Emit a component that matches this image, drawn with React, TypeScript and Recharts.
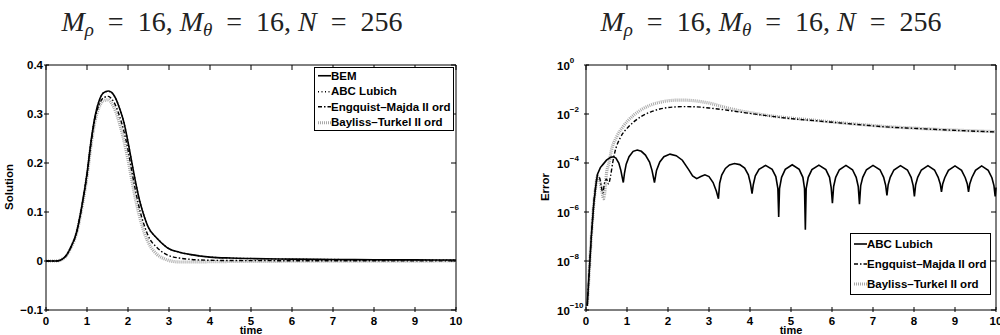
import React from "react";
import { LineChart, Line, XAxis, YAxis, ReferenceLine, Legend } from "recharts";

const SANS = '"Liberation Sans", Arial, sans-serif';
const SERIF = '"Liberation Serif", "Times New Roman", serif';

// ---- left panel: solution vs time
const solTime = [0, 0.2, 0.3, 0.4, 0.5, 0.6, 0.75, 0.87, 1.0, 1.1, 1.2, 1.3, 1.4, 1.52, 1.6, 1.7, 1.8, 1.9, 2.0, 2.1, 2.2, 2.3, 2.4, 2.5, 2.7, 2.9, 3.0, 3.25, 3.5, 4.0, 4.5, 5, 6, 7, 8, 9, 10];
const solBem = [0, 0, 0.0005, 0.004, 0.012, 0.027, 0.06, 0.11, 0.178, 0.245, 0.297, 0.328, 0.343, 0.347, 0.344, 0.332, 0.31, 0.283, 0.243, 0.198, 0.155, 0.118, 0.09, 0.068, 0.047, 0.031, 0.025, 0.018, 0.0135, 0.008, 0.006, 0.005, 0.0038, 0.003, 0.0026, 0.0022, 0.002];
const solAbc = [0, 0, 0.0005, 0.004, 0.012, 0.027, 0.06, 0.11, 0.178, 0.245, 0.297, 0.328, 0.343, 0.346, 0.344, 0.332, 0.31, 0.283, 0.243, 0.198, 0.155, 0.118, 0.09, 0.068, 0.047, 0.031, 0.025, 0.018, 0.0135, 0.008, 0.006, 0.005, 0.0038, 0.003, 0.0026, 0.0022, 0.002];
const solEm = [0, 0, 0.0005, 0.004, 0.012, 0.027, 0.0595, 0.109, 0.176, 0.241, 0.292, 0.32, 0.333, 0.336, 0.331, 0.317, 0.294, 0.265, 0.227, 0.18, 0.137, 0.1, 0.072, 0.05, 0.028, 0.015, 0.011, 0.006, 0.0035, 0.0015, 0.001, 0.0008, 0.0006, 0.0005, 0.0004, 0.0003, 0.0003];
const solBt = [0, 0, 0.0005, 0.004, 0.011, 0.026, 0.058, 0.106, 0.172, 0.237, 0.287, 0.315, 0.327, 0.329, 0.322, 0.305, 0.279, 0.246, 0.207, 0.162, 0.12, 0.085, 0.057, 0.037, 0.014, 0.004, 0.001, -0.002, -0.002, -0.0015, -0.001, -0.0008, -0.0005, -0.0003, -0.0002, -0.0001, 0];

const solTicksX = [0, 1, 2, 3, 4, 5, 6, 7, 8, 9, 10];
const solTicksY = [-0.1, 0, 0.1, 0.2, 0.3, 0.4];
const solTickLabels = ["\u22120.1", "0", "0.1", "0.2", "0.3", "0.4"];

// ---- right panel: error vs time (log)
const abcT = [0.03, 0.08, 0.13, 0.19, 0.24, 0.28, 0.35, 0.42, 0.5, 0.6, 0.67, 0.73, 0.8, 0.85, 0.88, 0.91, 0.94, 0.98, 1.05, 1.15, 1.25, 1.35, 1.45, 1.55, 1.61, 1.67, 1.72, 1.8, 1.9, 2.05, 2.2, 2.35, 2.5, 2.6, 2.7, 2.8, 2.9, 3.0, 3.1, 3.18, 3.23,
  3.26, 3.31, 3.4, 3.5, 3.62, 3.75, 3.87, 3.96, 4.01, 4.05,
  4.08, 4.13, 4.22, 4.38, 4.54, 4.63, 4.68, 4.7,
  4.72, 4.77, 4.86, 5.03, 5.2, 5.29, 5.33, 5.35,
  5.37, 5.42, 5.51, 5.68, 5.85, 5.94, 5.98, 6.01,
  6.04, 6.09, 6.18, 6.34, 6.5, 6.59, 6.64, 6.67,
  6.7, 6.75, 6.84, 7.0, 7.17, 7.26, 7.31, 7.34,
  7.37, 7.42, 7.51, 7.67, 7.84, 7.93, 7.98, 8.01,
  8.04, 8.09, 8.18, 8.34, 8.5, 8.59, 8.64, 8.67,
  8.7, 8.75, 8.84, 9.0, 9.16, 9.25, 9.3, 9.33,
  9.36, 9.41, 9.5, 9.65, 9.81, 9.9, 9.95, 9.98, 10.0];
const abcErr = [1.5e-10, 4e-9, 1e-7, 2.2e-6, 1.2e-5, 3.5e-5, 6.5e-5, 9e-5, 1.3e-4, 1.7e-4, 1.8e-4, 1.6e-4, 1e-4, 5e-5, 2.8e-5, 1.6e-5, 4e-5, 9e-5, 1.8e-4, 3e-4, 3.4e-4, 3e-4, 2.1e-4, 1.1e-4, 5e-5, 1.6e-5, 5e-5, 1.1e-4, 1.8e-4, 2.3e-4, 2e-4, 1.3e-4, 5.5e-5, 3e-5, 2.3e-5, 2.8e-5, 3.3e-5, 2.8e-5, 1.6e-5, 7e-6, 3.5e-6,
  1.5e-5, 3.2e-5, 6e-5, 8.3e-5, 9.5e-5, 8.6e-5, 6.2e-5, 3.3e-5, 1.5e-5, 5.6e-6,
  1.3e-5, 3e-5, 5.5e-5, 8e-5, 5.5e-5, 2.8e-5, 9e-6, 6.3e-7,
  9e-6, 2.6e-5, 5.5e-5, 8.5e-5, 5.5e-5, 2.6e-5, 9e-6, 1.9e-7,
  9e-6, 2.6e-5, 5.4e-5, 8.2e-5, 5.4e-5, 2.6e-5, 1e-5, 2.3e-6,
  1.1e-5, 2.6e-5, 5.3e-5, 8e-5, 5.3e-5, 2.6e-5, 1.1e-5, 2.1e-6,
  1.2e-5, 2.6e-5, 5.3e-5, 8e-5, 5.3e-5, 2.6e-5, 1.2e-5, 4.8e-6,
  1.3e-5, 2.6e-5, 5.2e-5, 7.8e-5, 5.2e-5, 2.6e-5, 1.2e-5, 4.3e-6,
  1.3e-5, 2.6e-5, 5.2e-5, 7.8e-5, 5.2e-5, 2.6e-5, 1.4e-5, 6.6e-6,
  1.4e-5, 2.5e-5, 5e-5, 7.6e-5, 5e-5, 2.5e-5, 1.4e-5, 6.6e-6,
  1.4e-5, 2.5e-5, 5e-5, 7.6e-5, 5e-5, 2.5e-5, 1.2e-5, 4.3e-6, 1e-5];

const emT = [0.03, 0.08, 0.13, 0.19, 0.24, 0.28, 0.33, 0.37, 0.41, 0.45, 0.5, 0.55, 0.6, 0.65, 0.7, 0.84, 1.0, 1.16, 1.35, 1.57, 1.8, 2.1, 2.4, 2.7, 3.0, 3.35, 3.76, 4.4, 4.98, 5.6, 6.2, 6.8, 7.42, 8.0, 8.64, 9.3, 10];
const emErr = [1.5e-10, 4e-9, 1e-7, 2.2e-6, 1.2e-5, 3e-5, 2.5e-5, 1.2e-5, 6e-6, 1.5e-5, 2.2e-5, 1.4e-5, 3e-5, 1e-4, 2.6e-4, 1.1e-3, 2.6e-3, 4.7e-3, 8e-3, 1.2e-2, 1.6e-2, 1.9e-2, 2.0e-2, 1.95e-2, 1.75e-2, 1.5e-2, 1.2e-2, 8.6e-3, 6.5e-3, 5.3e-3, 4.3e-3, 3.5e-3, 2.9e-3, 2.6e-3, 2.3e-3, 2.05e-3, 1.85e-3];

const btT = [0.03, 0.08, 0.13, 0.19, 0.24, 0.28, 0.33, 0.38, 0.43, 0.47, 0.5, 0.56, 0.62, 0.75, 0.9, 1.16, 1.35, 1.57, 1.8, 2.1, 2.3, 2.54, 2.8, 3.0, 3.35, 3.76, 4.2, 4.6, 5.0, 5.6, 6.2, 6.8, 7.4, 8.0, 8.6, 9.3, 10];
const btErr = [1.5e-10, 4e-9, 1e-7, 2.2e-6, 1.2e-5, 3e-5, 2e-5, 8e-6, 3.5e-6, 1e-5, 3.8e-5, 1e-4, 3.3e-4, 1.2e-3, 3e-3, 8.9e-3, 1.5e-2, 2.3e-2, 3e-2, 3.6e-2, 3.7e-2, 3.6e-2, 3.2e-2, 2.8e-2, 1.95e-2, 1.35e-2, 1e-2, 8e-3, 6.8e-3, 5.5e-3, 4.4e-3, 3.6e-3, 3e-3, 2.65e-3, 2.35e-3, 2.1e-3, 1.9e-3];

const errTicksY = [1e-10, 1e-8, 1e-6, 1e-4, 1e-2, 1];

const solData = solTime.map((t, i) => ({ t, bem: solBem[i], abc: solAbc[i], em: solEm[i], bt: solBt[i] }));
const abcData = abcT.map((t, i) => ({ t, v: abcErr[i] }));
const emData = emT.map((t, i) => ({ t, v: emErr[i] }));
const btData = btT.map((t, i) => ({ t, v: btErr[i] }));

const SOLID = { stroke: "#000", width: 1.6, dash: undefined as string | undefined };
const DOTTED = { stroke: "#000", width: 1.4, dash: "1 2.5" };
const DASHDOT = { stroke: "#000", width: 1.4, dash: "4 2 1.5 2" };
const GRAYDOT = { stroke: "#a8a8a8", width: 3.2, dash: "1 1" };

const leftLegend = [
  { name: "BEM", ...SOLID },
  { name: "ABC Lubich", ...DOTTED },
  { name: "Engquist\u2013Majda II ord", ...DASHDOT },
  { name: "Bayliss\u2013Turkel II ord", ...GRAYDOT },
];
const rightLegend = [
  { name: "ABC Lubich", ...SOLID },
  { name: "Engquist\u2013Majda II ord", ...DASHDOT },
  { name: "Bayliss\u2013Turkel II ord", ...GRAYDOT },
];

const TOP = 65;

const LegendBox = ({ items, rowH }: { items: any[]; rowH: number }) => (
  <div style={{ border: "1px solid #000", background: "#fff", boxSizing: "border-box", fontFamily: SANS, fontWeight: "bold", fontSize: 11.5, color: "#000" }}>
    {items.map((it) => (
      <div key={it.name} style={{ display: "flex", alignItems: "center", height: rowH, whiteSpace: "nowrap" }}>
        <svg width={16} height={rowH} style={{ flex: "none" }}>
          <line x1={3} x2={16} y1={rowH / 2} y2={rowH / 2} stroke={it.stroke} strokeWidth={it.width} strokeDasharray={it.dash} />
        </svg>
        <span>{it.name}</span>
      </div>
    ))}
  </div>
);

const makeXTick = () => (props: any) => {
  const { x, y, payload } = props;
  return (
    <g>
      <line x1={x} y1={y} x2={x} y2={y - 5} stroke="#000" />
      <line x1={x} y1={TOP} x2={x} y2={TOP + 5} stroke="#000" />
      <text x={x} y={y + 12.5} textAnchor="middle" fontFamily={SANS} fontWeight="bold" fontSize={11.5} fill="#000">
        {payload.value}
      </text>
    </g>
  );
};

const makeSolYTick = (right: number) => (props: any) => {
  const { x, y, payload } = props;
  const idx = solTicksY.indexOf(payload.value);
  return (
    <g>
      <line x1={x} y1={y} x2={x + 5} y2={y} stroke="#000" />
      <line x1={right} y1={y} x2={right - 5} y2={y} stroke="#000" />
      <text x={x - 1} y={y + 4} textAnchor="end" fontFamily={SANS} fontWeight="bold" fontSize={11.5} fill="#000">
        {solTickLabels[idx]}
      </text>
    </g>
  );
};

const makeErrYTick = (right: number) => (props: any) => {
  const { x, y, payload } = props;
  const e = Math.round(Math.log10(payload.value));
  return (
    <g>
      <line x1={x} y1={y} x2={x + 5} y2={y} stroke="#000" />
      <line x1={right} y1={y} x2={right - 5} y2={y} stroke="#000" />
      <text x={57} y={y + 4.5} fontFamily={SANS} fontWeight="bold" fontSize={11.5} fill="#000">
        10
        <tspan dy={-7} fontSize={8}>{e === 0 ? "0" : "\u2212" + Math.abs(e)}</tspan>
      </text>
    </g>
  );
};

const EQ = "\u2002=\u2002";

const Title = ({ cx }: { cx: number }) => (
  <text x={cx} y={31} textAnchor="middle" fontFamily={SERIF} fontSize={28} fill="#222" style={{ whiteSpace: "pre" }}>
    <tspan fontStyle="italic">M</tspan>
    <tspan fontStyle="italic" fontSize={19} dy={5}>{"\u03c1"}</tspan>
    <tspan dy={-5}>{EQ + "16, "}</tspan>
    <tspan fontStyle="italic">M</tspan>
    <tspan fontStyle="italic" fontSize={19} dy={5}>{"\u03b8"}</tspan>
    <tspan dy={-5}>{EQ + "16, "}</tspan>
    <tspan fontStyle="italic">N</tspan>
    <tspan>{EQ + "256"}</tspan>
  </text>
);

const axisText = { fontFamily: SANS, fontWeight: "bold", fontSize: 11.5, fill: "#000" } as const;
const timeText = { fontFamily: SANS, fontWeight: "bold", fontSize: 11, fill: "#000" } as const;

export default function App() {
  return (
    <div style={{ position: "absolute", left: 0, top: 0, width: 1000, height: 335, background: "#fff", overflow: "hidden" }}>
      <svg width={1000} height={40} style={{ position: "absolute", left: 0, top: 0 }}>
        <Title cx={232} />
        <Title cx={771} />
      </svg>

      <div style={{ position: "absolute", left: 0, top: 0 }}>
        <LineChart width={500} height={335} data={solData} margin={{ top: TOP, right: 44, bottom: 0, left: 0 }}>
          <XAxis
            dataKey="t"
            type="number"
            domain={[0, 10]}
            ticks={solTicksX}
            height={25}
            tickSize={0}
            tickLine={false}
            axisLine={{ stroke: "#000" }}
            tick={makeXTick()}
            interval={0}
            label={{ value: "time", position: "insideBottom", offset: 1, style: timeText }}
          />
          <YAxis
            type="number"
            domain={[-0.1, 0.4]}
            ticks={solTicksY}
            width={46}
            tickSize={0}
            tickLine={false}
            axisLine={{ stroke: "#000" }}
            tick={makeSolYTick(456)}
            interval={0}
            label={{
              content: () => (
                <text x={13} y={187} transform="rotate(-90 13 187)" textAnchor="middle" {...axisText}>
                  Solution
                </text>
              ),
            }}
          />
          <ReferenceLine y={0.4} stroke="#000" />
          <ReferenceLine x={10} stroke="#000" />
          <Line dataKey="bt" type="monotone" stroke={GRAYDOT.stroke} strokeWidth={GRAYDOT.width} strokeDasharray={GRAYDOT.dash} dot={false} isAnimationActive={false} />
          <Line dataKey="em" type="monotone" stroke={DASHDOT.stroke} strokeWidth={DASHDOT.width} strokeDasharray={DASHDOT.dash} dot={false} isAnimationActive={false} />
          <Line dataKey="abc" type="monotone" stroke={DOTTED.stroke} strokeWidth={DOTTED.width} strokeDasharray={DOTTED.dash} dot={false} isAnimationActive={false} />
          <Line dataKey="bem" type="monotone" stroke={SOLID.stroke} strokeWidth={SOLID.width} dot={false} isAnimationActive={false} />
          <Legend
            layout="vertical"
            align="center"
            verticalAlign="middle"
            wrapperStyle={{ left: 314, top: 67, width: 140 }}
            content={() => <LegendBox items={leftLegend} rowH={15.5} />}
          />
        </LineChart>
      </div>

      <div style={{ position: "absolute", left: 500, top: 0 }}>
        <LineChart width={500} height={335} margin={{ top: TOP, right: 4, bottom: 0, left: 0 }}>
          <XAxis
            dataKey="t"
            type="number"
            domain={[0, 10]}
            ticks={solTicksX}
            height={25}
            tickSize={0}
            tickLine={false}
            axisLine={{ stroke: "#000" }}
            tick={makeXTick()}
            interval={0}
            allowDuplicatedCategory={false}
            label={{ value: "time", position: "insideBottom", offset: 1, style: timeText }}
          />
          <YAxis
            type="number"
            scale="log"
            domain={[1e-10, 1]}
            allowDataOverflow
            ticks={errTicksY}
            width={86}
            tickSize={0}
            tickLine={false}
            axisLine={{ stroke: "#000" }}
            tick={makeErrYTick(496)}
            interval={0}
            label={{
              content: () => (
                <text x={49} y={187} transform="rotate(-90 49 187)" textAnchor="middle" {...axisText}>
                  Error
                </text>
              ),
            }}
          />
          <ReferenceLine y={1} stroke="#000" />
          <ReferenceLine x={10} stroke="#000" />
          <Line data={btData} dataKey="v" type="monotone" stroke={GRAYDOT.stroke} strokeWidth={GRAYDOT.width} strokeDasharray={GRAYDOT.dash} dot={false} isAnimationActive={false} />
          <Line data={emData} dataKey="v" type="monotone" stroke={DASHDOT.stroke} strokeWidth={DASHDOT.width} strokeDasharray={DASHDOT.dash} dot={false} isAnimationActive={false} />
          <Line data={abcData} dataKey="v" type="linear" stroke={SOLID.stroke} strokeWidth={SOLID.width} dot={false} isAnimationActive={false} />
          <Legend
            layout="vertical"
            align="center"
            verticalAlign="middle"
            wrapperStyle={{ left: 350, top: 233, width: 141 }}
            content={() => <LegendBox items={rightLegend} rowH={20} />}
          />
        </LineChart>
      </div>
    </div>
  );
}
